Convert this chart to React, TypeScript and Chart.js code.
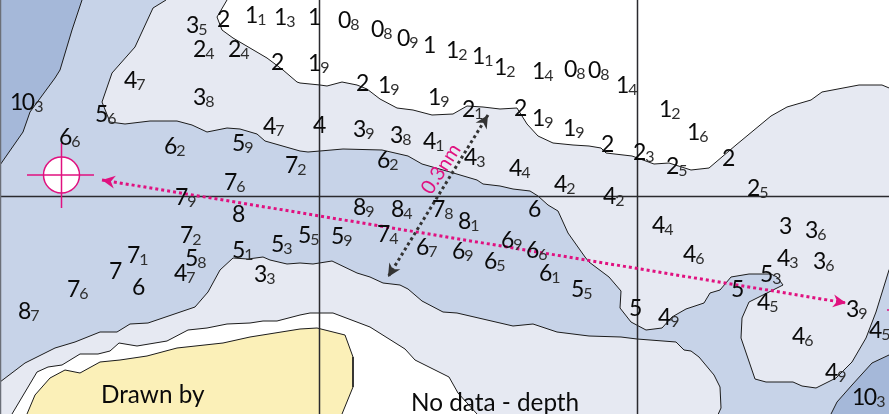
import React, { useEffect, useRef } from "react";
import { Chart, registerables } from "chart.js";

Chart.register(...registerables);

type P = [number, number];
type Sounding = [number, number, string, string];

const WIDTH = 889;
const HEIGHT = 414;

const coastline: P[] = [
  [227, -5], [227, 0], [217, 17], [222, 30], [233, 38], [267, 58], [283, 70], [297, 82], [300, 83], [320, 85], [327, 86],
  [342, 82], [357, 85], [367, 89], [380, 99], [397, 108], [413, 110], [432, 115], [453, 114], [467, 106],
  [483, 107], [500, 109], [517, 108], [527, 124], [538, 136], [553, 143], [573, 145], [589, 146], [601, 148],
  [606, 153], [632, 156], [654, 164], [669, 163], [691, 170], [709, 168], [736, 145], [771, 116], [787, 107],
  [811, 100], [822, 92], [859, 85], [882, 85], [894, 90],
];

const midUpper: P[] = [
  [170, -5], [166, 0], [153, 8], [135, 47], [112, 73], [102, 102], [110, 122], [125, 124], [150, 121], [177, 121],
  [192, 125], [207, 132], [227, 128], [240, 129], [257, 134], [265, 141], [300, 151], [308, 152], [320, 151],
  [343, 149], [382, 150], [408, 156], [422, 164], [450, 172], [477, 180], [483, 184], [500, 186], [513, 189],
  [530, 191], [538, 196], [548, 205], [558, 211], [568, 233], [585, 257], [589, 262], [609, 277], [621, 291],
  [620, 308], [631, 322], [646, 330], [662, 328], [672, 317], [686, 309], [704, 303], [710, 293], [720, 290],
  [731, 277], [749, 274], [771, 274], [777, 277], [783, 285], [749, 302], [742, 318], [741, 338], [755, 379],
  [766, 382], [793, 382], [802, 386], [816, 388], [836, 378], [852, 362], [866, 338], [876, 312], [889, 270],
  [894, 262],
];

const midLower: P[] = [
  [-5, 385], [0, 382], [25, 363], [55, 348], [75, 342], [100, 332], [117, 332], [130, 324], [148, 323], [195, 307],
  [208, 292], [220, 270], [233, 258], [248, 259], [263, 257], [270, 260], [287, 264], [300, 263], [313, 264],
  [332, 261], [357, 273], [370, 277], [383, 283], [400, 285], [408, 289], [422, 301], [443, 312], [457, 313],
  [513, 326], [533, 324], [557, 332], [589, 336], [621, 337], [637, 339], [676, 342], [684, 350], [691, 351],
  [699, 357], [714, 375], [720, 387], [721, 408], [716, 419],
];

const noData: P[] = [
  [9, 419], [12, 414], [37, 372], [48, 367], [62, 365], [80, 354], [98, 354], [110, 351], [119, 343], [137, 346],
  [167, 341], [188, 330], [207, 328], [227, 324], [250, 323], [263, 321], [277, 321], [300, 315], [310, 313],
  [333, 313], [370, 327], [405, 349], [415, 360], [449, 377], [458, 393], [477, 414], [482, 419],
];

const land: P[] = [
  [25, 419], [27, 414], [35, 395], [50, 378], [65, 370], [80, 373], [100, 362], [120, 360], [147, 356], [177, 348],
  [223, 343], [250, 337], [300, 329], [317, 328], [345, 335], [353, 357], [353, 387], [342, 414], [340, 419],
];

const deepNorthWest: P[] = [
  [-5, -5], [84, -5], [82, 0], [72, 30], [60, 70], [55, 78], [30, 112], [23, 132], [0, 165], [-5, 172],
];

const deepSouthEast: P[] = [
  [894, 352], [889, 355], [872, 363], [852, 385], [837, 402], [831, 414], [829, 419], [894, 419],
];

const gridEasting = [319.5, 637.5];
const gridNorthing = [196.5];

const waypointCentre: P = [61.5, 175];
const waypointCrossH: P[] = [[27, 175], [94, 175]];
const waypointCrossV: P[] = [[61.5, 143], [61.5, 208]];
const nextWaypointTick: P[] = [[887, 310], [894, 310]];

const trackLine: P[] = [[102, 180], [846, 303]];
const widthLine: P[] = [[488, 115], [388, 277]];

const soundings: Sounding[] = [
  [10, 110, "10", "3"], [59, 145, "6", "6"], [95, 122, "5", "6"], [164, 154, "6", "2"], [124, 88, "4", "7"],
  [193, 105, "3", "8"], [186, 33, "3", "5"], [217, 27, "2", ""], [245, 23, "1", "1"], [274, 25, "1", "3"],
  [193, 57, "2", "4"], [228, 57, "2", "4"], [271, 70, "2", ""], [263, 134, "4", "7"], [232, 151, "5", "9"],
  [285, 173, "7", "2"], [224, 190, "7", "6"], [175, 205, "7", "9"],
  [308, 25, "1", ""], [338, 28, "0", "8"], [371, 37, "0", "8"], [397, 46, "0", "9"], [423, 53, "1", ""],
  [446, 58, "1", "2"], [472, 64, "1", "1"], [494, 75, "1", "2"], [532, 79, "1", "4"], [564, 77, "0", "8"],
  [588, 78, "0", "8"], [308, 71, "1", "9"], [356, 91, "2", ""], [378, 93, "1", "9"], [428, 105, "1", "9"],
  [462, 117, "2", "1"], [514, 116, "2", ""], [532, 126, "1", "9"], [563, 136, "1", "9"], [313, 133, "4", ""],
  [353, 137, "3", "9"], [390, 143, "3", "8"], [423, 149, "4", "1"], [464, 165, "4", "3"], [377, 168, "6", "2"],
  [509, 176, "4", "4"], [554, 192, "4", "2"],
  [353, 215, "8", "9"], [391, 217, "8", "4"], [432, 217, "7", "8"], [528, 217, "6", ""], [458, 229, "8", "1"],
  [377, 242, "7", "4"], [416, 255, "6", "7"], [452, 259, "6", "9"], [484, 269, "6", "5"], [501, 248, "6", "9"],
  [526, 258, "6", "6"], [539, 281, "6", "1"], [571, 297, "5", "5"], [331, 244, "5", "9"], [298, 243, "5", "5"],
  [271, 252, "5", "3"], [232, 258, "5", "1"], [254, 282, "3", "3"], [232, 222, "8", ""], [180, 243, "7", "2"],
  [185, 266, "5", "8"], [174, 281, "4", "7"], [127, 263, "7", "1"], [109, 279, "7", ""], [132, 295, "6", ""],
  [67, 297, "7", "6"], [18, 319, "8", "7"],
  [616, 93, "1", "4"], [659, 117, "1", "2"], [687, 140, "1", "6"], [601, 152, "2", ""], [633, 160, "2", "3"],
  [666, 174, "2", "5"], [722, 166, "2", ""], [747, 196, "2", "5"], [603, 204, "4", "2"],
  [652, 233, "4", "4"], [779, 234, "3", ""], [805, 238, "3", "6"], [683, 262, "4", "6"], [777, 266, "4", "3"],
  [813, 269, "3", "6"], [760, 282, "5", "3"], [731, 297, "5", ""], [757, 310, "4", "5"], [629, 316, "5", ""],
  [658, 325, "4", "9"], [846, 317, "3", "9"], [869, 338, "4", "5"], [792, 344, "4", "6"], [825, 380, "4", "9"],
  [852, 405, "10", "3"],
];

const notes: [number, number, string][] = [
  [101, 403, "Drawn by"],
  [411, 411, "No data - depth"],
];

const widthLabel = { x: 441, y: 169, text: "0.3nm" };

const COL_SHALLOW = "#e6e9f2";
const COL_MID = "#c7d3e8";
const COL_DEEP = "#a5b8d9";
const COL_LAND = "#fbf0b8";
const COL_LINE = "#1c1c1c";
const COL_GRID = "#2a2a2e";
const COL_PINK = "#e0117f";
const COL_ARROW = "#333333";
const FONT = "Lato, Carlito, sans-serif";

const pts = (a: P[]) => a.map(([x, y]) => ({ x, y }));

const shallowShape: P[] = [...coastline, [894, 419], [-5, 419], [-5, -5]];
const midShape: P[] = [...midUpper, [894, 419], ...[...midLower].reverse(), [-5, -5]];

function polygon(data: P[], fillColor: string) {
  return {
    data: pts(data), showLine: true, fill: "shape", backgroundColor: fillColor,
    borderColor: COL_LINE, borderWidth: 1, pointRadius: 0, tension: 0,
  };
}

function rule(data: P[], color: string, width: number, dash: number[] = []) {
  return {
    data: pts(data), showLine: true, fill: false, borderColor: color, borderWidth: width,
    borderDash: dash, pointRadius: 0, tension: 0,
  };
}

function drawHead(ctx: CanvasRenderingContext2D, tx: number, ty: number, fx: number, fy: number, color: string) {
  const a = Math.atan2(ty - fy, tx - fx);
  ctx.save();
  ctx.translate(tx, ty);
  ctx.rotate(a);
  ctx.fillStyle = color;
  ctx.beginPath();
  ctx.moveTo(0, 0);
  ctx.lineTo(-13, -6.5);
  ctx.lineTo(-9, 0);
  ctx.lineTo(-13, 6.5);
  ctx.closePath();
  ctx.fill();
  ctx.restore();
}

const chartText = {
  id: "chartText",
  afterDatasetsDraw(chart: any) {
    const { ctx, scales } = chart;
    const X = (v: number) => scales.x.getPixelForValue(v);
    const Y = (v: number) => scales.y.getPixelForValue(v);

    const head = (line: P[], color: string) => {
      const [a, b] = line;
      drawHead(ctx, X(a[0]), Y(a[1]), X(b[0]), Y(b[1]), color);
      drawHead(ctx, X(b[0]), Y(b[1]), X(a[0]), Y(a[1]), color);
    };
    head(trackLine, COL_PINK);
    head(widthLine, COL_ARROW);

    ctx.save();
    ctx.textAlign = "left";
    ctx.textBaseline = "alphabetic";
    for (const [x, y, main, sub] of soundings) {
      ctx.font = `23px ${FONT}`;
      ctx.letterSpacing = "-1.5px";
      ctx.fillStyle = "#0a0a0a";
      ctx.fillText(main, X(x), Y(y));
      const w = ctx.measureText(main).width;
      ctx.letterSpacing = "0px";
      if (sub) {
        ctx.font = `16px ${FONT}`;
        ctx.fillStyle = "#2e2e2e";
        ctx.fillText(sub, X(x) + w + 0.5, Y(y) + 2);
      }
    }
    ctx.font = `24.3px ${FONT}`;
    ctx.fillStyle = "#0a0a0a";
    for (const [x, y, t] of notes) ctx.fillText(t, X(x), Y(y));

    ctx.translate(X(widthLabel.x), Y(widthLabel.y));
    ctx.rotate((-57 * Math.PI) / 180);
    ctx.textAlign = "center";
    ctx.textBaseline = "middle";
    ctx.font = `20px ${FONT}`;
    ctx.fillStyle = COL_PINK;
    ctx.fillText(widthLabel.text, 0, 0);
    ctx.restore();
  },
};

export default function App() {
  const ref = useRef<HTMLCanvasElement | null>(null);

  useEffect(() => {
    document.body.style.margin = "0";
    const datasets: any[] = [
      polygon(shallowShape, COL_SHALLOW),
      polygon(midShape, COL_MID),
      polygon(deepNorthWest, COL_DEEP),
      polygon(deepSouthEast, COL_DEEP),
      polygon(noData, "#ffffff"),
      polygon(land, COL_LAND),
      ...gridEasting.map((x) => rule([[x, -5], [x, 419]], COL_GRID, 1.5)),
      ...gridNorthing.map((y) => rule([[-5, y], [894, y]], COL_GRID, 1.5)),
      rule([[0.5, -5], [0.5, 419]], "#6b6f78", 1.5),
      {
        data: pts([waypointCentre]), showLine: false, pointRadius: 18, pointBackgroundColor: "#ffffff",
        pointBorderColor: COL_PINK, pointBorderWidth: 1.5,
      },
      rule(waypointCrossH, COL_PINK, 1.5),
      rule(waypointCrossV, COL_PINK, 1.5),
      rule(nextWaypointTick, COL_PINK, 1.5),
      rule(trackLine, COL_PINK, 3, [3, 3]),
      rule(widthLine, COL_ARROW, 3, [3, 3]),
    ];
    datasets.forEach((d, i) => (d.order = datasets.length - i));

    const chart = new Chart(ref.current as HTMLCanvasElement, {
      type: "scatter",
      data: { datasets },
      options: {
        animation: false,
        responsive: false,
        devicePixelRatio: 1,
        layout: { padding: 0, autoPadding: false },
        plugins: { legend: { display: false }, tooltip: { enabled: false } },
        scales: {
          x: { type: "linear", min: 0, max: WIDTH, display: false },
          y: { type: "linear", min: 0, max: HEIGHT, reverse: true, display: false },
        },
      },
      plugins: [chartText],
    } as any);
    return () => chart.destroy();
  }, []);

  return (
    <div style={{ position: "fixed", left: 0, top: 0, width: WIDTH, height: HEIGHT, background: "#fff" }}>
      <canvas ref={ref} width={WIDTH} height={HEIGHT} style={{ display: "block" }} />
    </div>
  );
}
